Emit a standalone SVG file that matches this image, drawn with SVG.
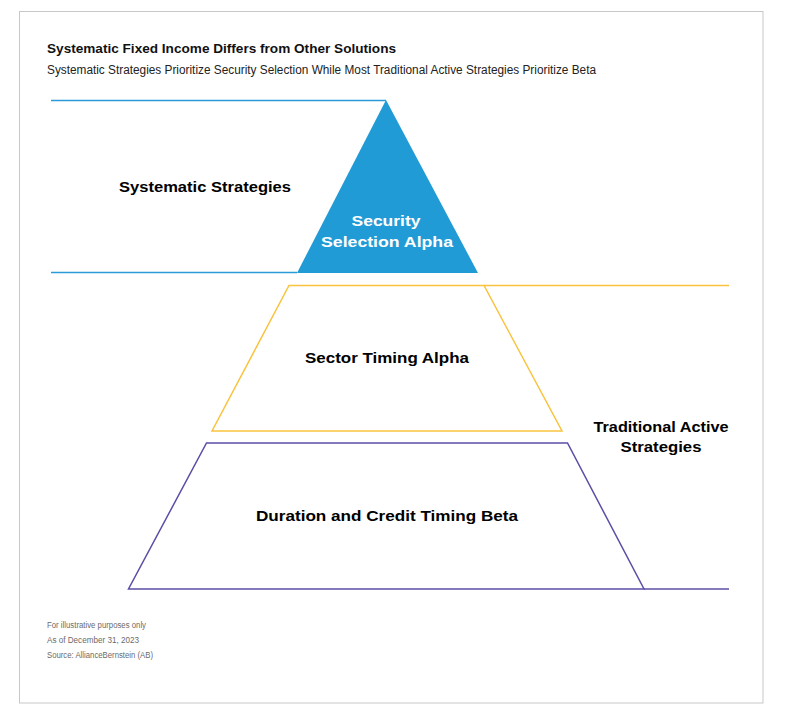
<svg xmlns="http://www.w3.org/2000/svg" width="786" height="714" viewBox="0 0 786 714">
<style>
.frame{fill:#ffffff;stroke:#c8c8c8;stroke-width:1}
.t{font-family:"Liberation Sans",Arial,sans-serif}
.title{font-size:13px;font-weight:bold;fill:#111111}
.sub{font-size:12px;fill:#222222}
.lbl{font-size:15px;font-weight:bold;fill:#000000}
.wlbl{font-size:15px;font-weight:bold;fill:#ffffff}
.note{font-size:8.5px;fill:#6a6a6a}
.blue{stroke:#2a9ad8;stroke-width:1.5;fill:none}
.yel{stroke:#f9c33f;stroke-width:1.5;fill:none}
.pur{stroke:#5a4fa6;stroke-width:1.5;fill:none}
</style>
<rect x="0" y="0" width="786" height="714" fill="#ffffff"/>
<rect class="frame" x="19.5" y="11.5" width="743.5" height="691.5"/>
<text class="t title" x="47" y="53" textLength="349" lengthAdjust="spacingAndGlyphs">Systematic Fixed Income Differs from Other Solutions</text>
<text class="t sub" x="47" y="74" textLength="549" lengthAdjust="spacingAndGlyphs">Systematic Strategies Prioritize Security Selection While Most Traditional Active Strategies Prioritize Beta</text>
<g id="connectors">
<polyline class="blue" points="51,100.5 386,100.5"/>
<polyline class="blue" points="51,272.5 297,272.5"/>
<polyline class="yel" points="484,285.5 729,285.5"/>
<polyline class="pur" points="644,589 729,589"/>
</g>
<g id="security-selection">
<polygon points="386,100 297,273 478,273" fill="#219bd6"/>
<text class="t wlbl" x="386" y="226" text-anchor="middle" textLength="69" lengthAdjust="spacingAndGlyphs">Security</text>
<text class="t wlbl" x="387" y="247" text-anchor="middle" textLength="132" lengthAdjust="spacingAndGlyphs">Selection  Alpha</text>
</g>
<g id="sector-timing">
<polygon class="yel" points="289,285.5 484,285.5 562,431 212,431"/>
<text class="t lbl" x="387" y="363" text-anchor="middle" textLength="164" lengthAdjust="spacingAndGlyphs">Sector Timing Alpha</text>
</g>
<g id="duration-credit">
<polygon class="pur" points="206.5,443 567.5,443 644,589 128.5,589"/>
<text class="t lbl" x="387" y="521" text-anchor="middle" textLength="262" lengthAdjust="spacingAndGlyphs">Duration and Credit Timing Beta</text>
</g>
<g id="systematic-strategies">
<text class="t lbl" x="205" y="192" text-anchor="middle" textLength="172" lengthAdjust="spacingAndGlyphs">Systematic Strategies</text>
</g>
<g id="traditional-active">
<text class="t lbl" x="661" y="432" text-anchor="middle" textLength="135" lengthAdjust="spacingAndGlyphs">Traditional Active</text>
<text class="t lbl" x="661" y="452" text-anchor="middle" textLength="81" lengthAdjust="spacingAndGlyphs">Strategies</text>
</g>
<g id="notes">
<text class="t note" x="47" y="628" textLength="99" lengthAdjust="spacingAndGlyphs">For illustrative purposes only</text>
<text class="t note" x="47" y="643" textLength="92" lengthAdjust="spacingAndGlyphs">As of December 31, 2023</text>
<text class="t note" x="47" y="658" textLength="106" lengthAdjust="spacingAndGlyphs">Source: AllianceBernstein (AB)</text>
</g>
</svg>
